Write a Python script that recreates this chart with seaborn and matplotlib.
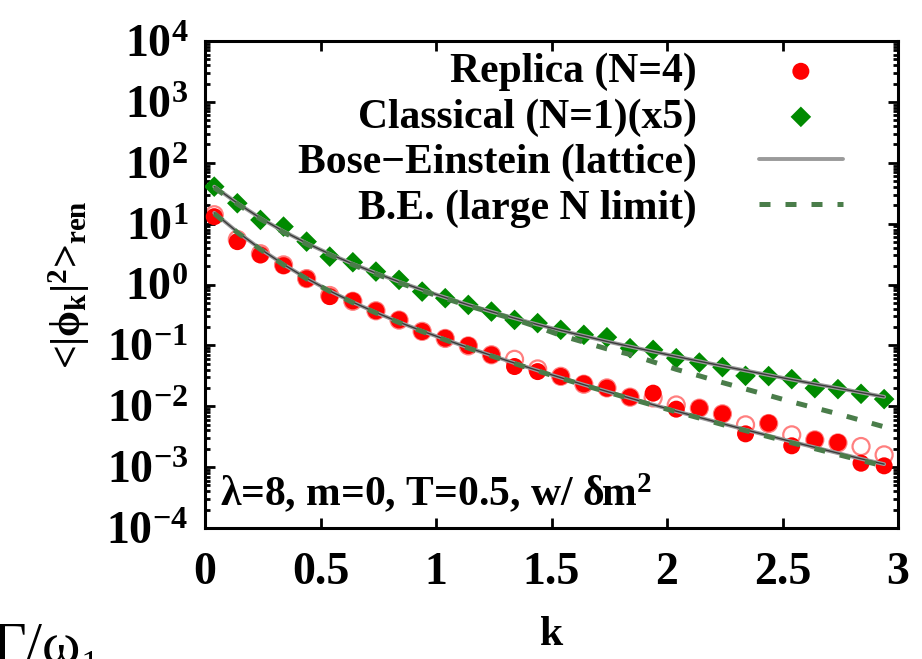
import numpy as np
import pandas as pd
import matplotlib
matplotlib.use("Agg")
import matplotlib.pyplot as plt
import seaborn as sns
from matplotlib.ticker import FixedLocator, NullFormatter

# momenta k
k = [0.04, 0.14, 0.24, 0.34, 0.44, 0.54, 0.64, 0.74, 0.84, 0.94,
     1.04, 1.14, 1.24, 1.34, 1.44, 1.54, 1.64, 1.74, 1.84, 1.94,
     2.04, 2.14, 2.24, 2.34, 2.44, 2.54, 2.64, 2.74, 2.84, 2.94]

# Replica (N=4), filled circles
replica = [13.0, 5.06, 3.06, 2.04, 1.24, 0.633, 0.538, 0.369, 0.262, 0.169,
           0.131, 0.0993, 0.0698, 0.0449, 0.0371, 0.0308, 0.0233, 0.0198, 0.0141, 0.0164,
           0.00896, 0.00931, 0.0075, 0.00352, 0.00528, 0.00224, 0.00281, 0.00254, 0.00116, 0.00105]

# second replica run (open circles, no legend entry)
replica_open = [14.0, 5.5, 3.2, 2.1, 1.25, 0.66, 0.53, 0.37, 0.26, 0.17,
                0.13, 0.098, 0.07, 0.059, 0.041, 0.031, 0.023, 0.02, 0.0141, 0.0137,
                0.0105, 0.0093, 0.0075, 0.00495, 0.0052, 0.00339, 0.0028, 0.0025, 0.00218, 0.00159]

# Classical (N=1), multiplied by 5
classical_x5 = [40.5, 21.6, 11.5, 8.93, 5.06, 2.87, 2.32, 1.63, 1.19, 0.764,
                0.596, 0.462, 0.359, 0.262, 0.232, 0.180, 0.149, 0.136, 0.0899, 0.0844,
                0.0616, 0.0522, 0.0439, 0.0316, 0.0313, 0.0279, 0.0198, 0.0191, 0.0160, 0.0131]

# Bose-Einstein curves
be_lattice_rep = [15.0, 7.31, 3.84, 2.14, 1.26, 0.785, 0.512, 0.347, 0.241, 0.172,
                  0.125, 0.0917, 0.0683, 0.0512, 0.0387, 0.0295, 0.0226, 0.0175, 0.0136, 0.0106,
                  0.00831, 0.00655, 0.00518, 0.00411, 0.00328, 0.00262, 0.00211, 0.0017, 0.00137, 0.00112]
be_largeN_rep = [14.6, 7.15, 3.77, 2.10, 1.24, 0.772, 0.503, 0.341, 0.237, 0.169,
                 0.123, 0.0902, 0.0671, 0.0503, 0.038, 0.029, 0.0222, 0.0172, 0.0133, 0.0104,
                 0.0081, 0.0064, 0.0050, 0.00398, 0.00316, 0.00251, 0.00201, 0.00161, 0.00129, 0.00104]
be_lattice_cl = [40.5, 21.7, 12.3, 7.47, 4.77, 3.17, 2.18, 1.54, 1.11, 0.818,
                 0.612, 0.464, 0.358, 0.279, 0.220, 0.176, 0.143, 0.116, 0.0956, 0.0791,
                 0.0657, 0.0548, 0.0459, 0.0386, 0.0325, 0.0274, 0.0232, 0.0198, 0.0168, 0.0143]
be_largeN_cl = [39.0, 21.0, 11.9, 7.2, 4.6, 3.07, 2.11, 1.49, 1.07, 0.79,
                0.59, 0.447, 0.345, 0.268, 0.200, 0.146, 0.113, 0.0876, 0.0711, 0.0536,
                0.0404, 0.0316, 0.0245, 0.0192, 0.0151, 0.0118, 0.00941, 0.0075, 0.00587, 0.00459]

xticks = [0, 0.5, 1, 1.5, 2, 2.5, 3]
xticklabels = ["0", "0.5", "1", "1.5", "2", "2.5", "3"]
ydecades = [-4, -3, -2, -1, 0, 1, 2, 3, 4]

# style
sns.set_style("ticks")
plt.rcParams["font.family"] = ["Liberation Serif", "DejaVu Serif"]
plt.rcParams["font.weight"] = "bold"
plt.rcParams["axes.labelweight"] = "bold"
plt.rcParams["font.size"] = 30
plt.rcParams["mathtext.fontset"] = "custom"
plt.rcParams["mathtext.rm"] = "Liberation Serif:bold"
plt.rcParams["mathtext.it"] = "Liberation Serif:bold"
plt.rcParams["mathtext.bf"] = "Liberation Serif:bold"
plt.rcParams["axes.linewidth"] = 2.2
for key in ("text.color", "axes.labelcolor", "xtick.color", "ytick.color", "axes.edgecolor"):
    plt.rcParams[key] = "black"

fig = plt.figure(figsize=(9.22, 6.59), dpi=100)
ax = fig.add_axes([205 / 922, 131 / 659, 693 / 922, 487 / 659])

red = "#ff0000"
green = "#008a00"
grey = "#9a9a9a"
dgreen = "#4a7d4a"

# points
sns.scatterplot(x=k, y=replica_open, marker="o", s=150, color="none",
                edgecolor="#ff7f7f", linewidth=1.6, ax=ax, zorder=2, label="_open")
sns.scatterplot(x=k, y=replica, marker="o", s=150, color=red, edgecolor="none",
                ax=ax, zorder=3, label="Replica (N=4)")
sns.scatterplot(x=k, y=classical_x5, marker="D", s=110, color=green, edgecolor="none",
                ax=ax, zorder=3, label="Classical (N=1)(x5)")

# curves
sns.lineplot(x=k, y=be_lattice_rep, color=grey, lw=2.8, ax=ax, zorder=4,
             estimator=None, sort=False, label="Bose\u2212Einstein (lattice)")
sns.lineplot(x=k, y=be_lattice_cl, color=grey, lw=2.8, ax=ax, zorder=4,
             estimator=None, sort=False, label="_be2")
for yy in (be_lattice_rep, be_lattice_cl):
    sns.lineplot(x=k, y=yy, color="#222222", lw=1.0, alpha=0.8, ax=ax, zorder=5,
                 estimator=None, sort=False, label="_core")
sns.lineplot(x=k, y=be_largeN_rep, color=dgreen, lw=3.6, ax=ax, zorder=6,
             estimator=None, sort=False, dashes=(2.2, 3.0), label="B.E. (large N limit)")
sns.lineplot(x=k, y=be_largeN_cl, color=dgreen, lw=3.6, ax=ax, zorder=6,
             estimator=None, sort=False, dashes=(2.2, 3.0), label="_be4")

ax.set_yscale("log")
ax.set_xlim(0, 3)
ax.set_ylim(1e-4, 1e4)
ax.set_xticks(xticks)
ax.set_xticklabels(xticklabels)
ax.yaxis.set_major_locator(FixedLocator([10.0 ** e for e in ydecades]))
ax.set_yticklabels([r"$\mathbf{10^{%d}}$" % e for e in ydecades])
minors = [m * 10.0 ** e for e in ydecades[:-1] for m in range(2, 10)]
ax.yaxis.set_minor_locator(FixedLocator(minors))
ax.yaxis.set_minor_formatter(NullFormatter())
ax.tick_params(which="both", direction="in", top=True, right=True, width=2.0, labelsize=33)
ax.tick_params(which="major", length=7, pad=12)
ax.tick_params(which="minor", length=3.5)
ax.tick_params(axis="x", pad=17)

ax.set_xlabel("k", labelpad=16)
ax.set_ylabel("<|$\\phi_{k}$|$^{2}$>$_{ren}$", labelpad=10)

ax.text(0.022, 0.045, "\u03bb=8, m=0, T=0.5, w/ \u03b4m$^{2}$",
        transform=ax.transAxes, va="baseline", ha="left")

handles, labels = ax.get_legend_handles_labels()
want = ["Replica (N=4)", "Classical (N=1)(x5)", "Bose\u2212Einstein (lattice)", "B.E. (large N limit)"]
hmap = dict(zip(labels, handles))
ax.legend([hmap[w] for w in want], want, loc="upper right", bbox_to_anchor=(0.944, 1.01),
          markerfirst=False, frameon=False, handlelength=2.0, handletextpad=1.5,
          labelspacing=0.17, borderaxespad=0.0, scatterpoints=1)

# fragment of neighbouring panel's text, cut by the page edge
fig.text(-8 / 922, -3 / 659, "\u0393/\u03c9\u2081", fontsize=42, fontweight="normal",
         va="baseline", ha="left")

fig.savefig("out.png", dpi=100)
